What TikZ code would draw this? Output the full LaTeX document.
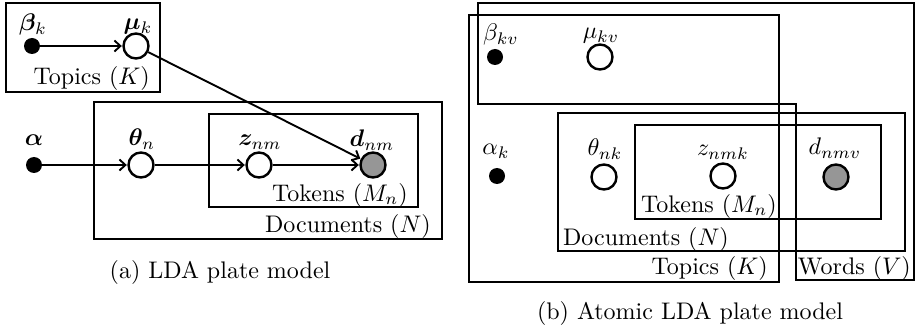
\documentclass[tikz,border=0pt]{standalone}
\usepackage{amsmath,bm,graphicx}
\usetikzlibrary{arrows.meta}
\definecolor{obsgray}{RGB}{150,150,150}
\newcommand{\bigtxt}[1]{\scalebox{2.4}{#1}}
\begin{document}
\begin{tikzpicture}[x=1pt,y=-1pt,
  every node/.style={inner sep=0pt},
  lbl/.style={anchor=base},
  platelbl/.style={anchor=base east},
  latent/.style={circle, draw, fill=white, line width=2.4pt, minimum size=25pt},
  obs/.style={circle, draw, fill=obsgray, line width=2.4pt, minimum size=25pt},
  param/.style={circle, fill=black, minimum size=16pt},
  plate/.style={draw, line width=2.7pt},
  edge/.style={line width=1.9pt, -{Straight Barb[length=6pt,width=11pt,line width=1.9pt]}, shorten >=0.5pt}
]
\useasboundingbox (0,0) rectangle (917,331);

% ---------- (a) LDA plate model ----------
\draw[plate] (6,3) rectangle (160,92);
\draw[plate] (94,102) rectangle (442,239);
\draw[plate] (209,114) rectangle (418,207);

\node[param] (beta) at (32,46) {};
\node[latent] (mu) at (136,46) {};
\node[param] (alpha) at (34,165) {};
\node[latent] (theta) at (141,165) {};
\node[latent] (z) at (259,165) {};
\node[obs] (d) at (373,165) {};

\node[lbl] (lbeta) at (33,31) {\bigtxt{$\boldsymbol{\beta}_k$}};
\node[lbl] (lmu) at (138,30) {\bigtxt{$\boldsymbol{\mu}_k$}};
\node[lbl] (lalpha) at (34,146) {\bigtxt{$\boldsymbol{\alpha}$}};
\node[lbl] (ltheta) at (142,146) {\bigtxt{$\boldsymbol{\theta}_n$}};
\node[lbl] (lz) at (260,146) {\bigtxt{$\boldsymbol{z}_{nm}$}};
\node[lbl] (ld) at (372,147) {\bigtxt{$\boldsymbol{d}_{nm}$}};

\node[platelbl] (ptopics) at (150,85) {\bigtxt{Topics ($K$)}};
\node[platelbl] (ptokens) at (408,201) {\bigtxt{Tokens ($M_n$)}};
\node[platelbl] (pdocs) at (431,232) {\bigtxt{Documents ($N$)}};

\draw[edge] (beta) -- (mu);
\draw[edge] (alpha) -- (theta);
\draw[edge] (theta) -- (z);
\draw[edge] (z) -- (d);
\draw[edge] (mu) -- (d);

\node[lbl] (capa) at (220,278) {\bigtxt{(a) LDA plate model}};

% ---------- (b) Atomic LDA plate model ----------
\draw[plate] (478,3) -- (914,3) -- (914,280) -- (796,280) -- (796,104) -- (478,104) -- cycle;
\draw[plate] (469,15) rectangle (779,282);
\draw[plate] (558,113) rectangle (905,251);
\draw[plate] (635,125) rectangle (881,219);

\node[param] (beta2) at (495,57) {};
\node[latent] (mu2) at (600,57) {};
\node[param] (alpha2) at (497,176) {};
\node[latent] (theta2) at (604,177) {};
\node[latent] (z2) at (723,176) {};
\node[obs] (d2) at (836,177) {};

\node[lbl] (lbeta2) at (501,41) {\bigtxt{$\beta_{kv}$}};
\node[lbl] (lmu2) at (601,39) {\bigtxt{$\mu_{kv}$}};
\node[lbl] (lalpha2) at (496,155) {\bigtxt{$\alpha_k$}};
\node[lbl] (ltheta2) at (605,156) {\bigtxt{$\theta_{nk}$}};
\node[lbl] (lz2) at (723,156) {\bigtxt{$z_{nmk}$}};
\node[lbl] (ld2) at (835,155) {\bigtxt{$d_{nmv}$}};

\node[platelbl] (ptokens2) at (777,212) {\bigtxt{Tokens ($M_n$)}};
\node[platelbl] (pdocs2) at (729,245) {\bigtxt{Documents ($N$)}};
\node[platelbl] (ptopics2) at (768,274) {\bigtxt{Topics ($K$)}};
\node[platelbl] (pwords2) at (911,274) {\bigtxt{Words ($V$)}};

\node[lbl] (capb) at (690,319) {\bigtxt{(b) Atomic LDA plate model}};
\end{tikzpicture}
\end{document}
